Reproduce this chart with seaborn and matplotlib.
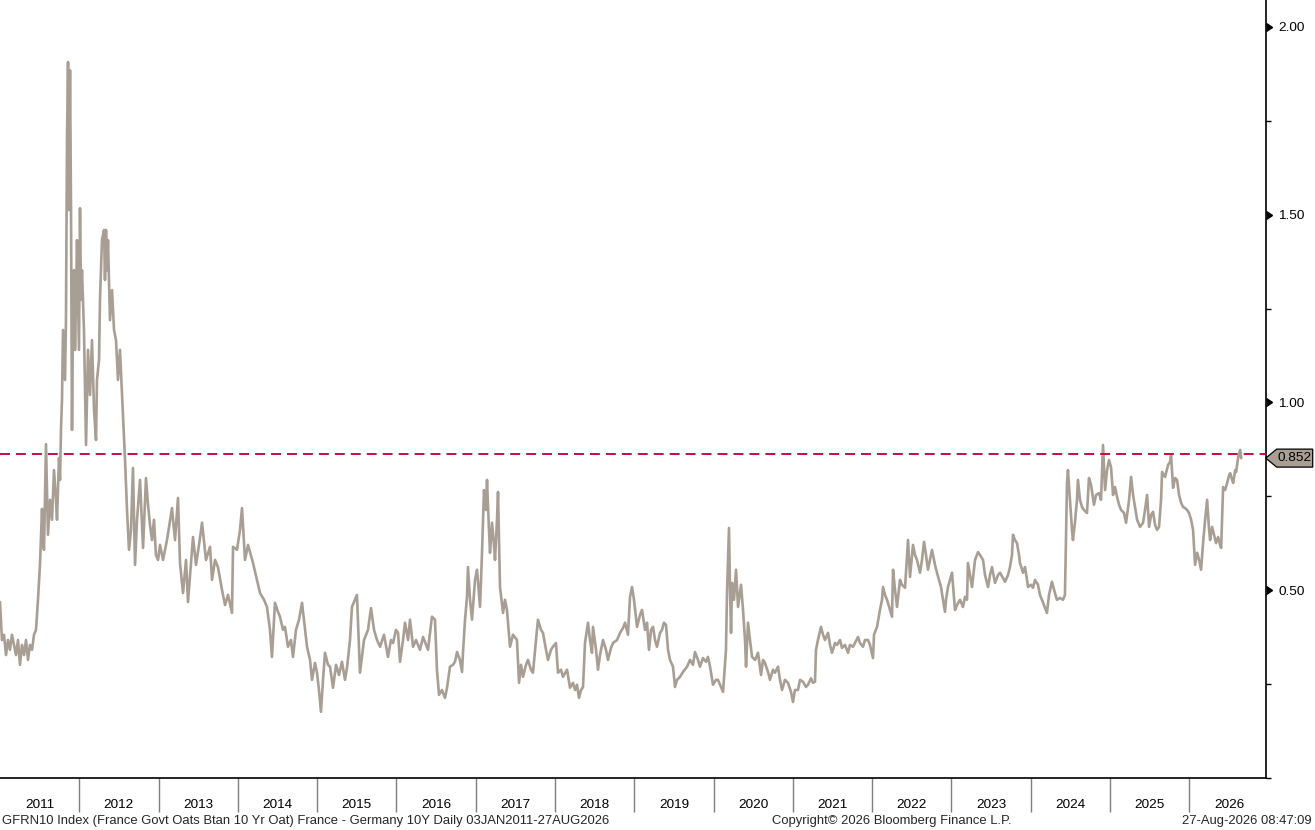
import numpy as np
import pandas as pd
import matplotlib
matplotlib.use("Agg")
import matplotlib.pyplot as plt
import matplotlib.transforms as mtransforms
from matplotlib.patches import Polygon
import seaborn as sns

# ---------------- data ----------------
dates_2011_2012 = [
    2011.000, 2011.025, 2011.050, 2011.076, 2011.101, 2011.126, 2011.151, 2011.177, 2011.202, 2011.227,
    2011.252, 2011.277, 2011.303, 2011.328, 2011.353, 2011.378, 2011.404, 2011.429, 2011.454, 2011.479,
    2011.504, 2011.530, 2011.542, 2011.555, 2011.580, 2011.605, 2011.631, 2011.656, 2011.681, 2011.706,
    2011.719, 2011.744, 2011.757, 2011.769, 2011.782, 2011.795, 2011.820, 2011.832, 2011.845, 2011.858,
    2011.870, 2011.883, 2011.895, 2011.908, 2011.921, 2011.933, 2011.946, 2011.959, 2011.971, 2011.984,
    2011.996, 2012.009, 2012.022, 2012.034, 2012.059, 2012.085, 2012.110, 2012.135, 2012.160, 2012.186,
    2012.211, 2012.223, 2012.249, 2012.261, 2012.286, 2012.312, 2012.324, 2012.337, 2012.349, 2012.362,
    2012.387, 2012.413, 2012.438, 2012.463, 2012.488, 2012.513, 2012.539, 2012.564, 2012.577, 2012.602,
    2012.627, 2012.652, 2012.677, 2012.703, 2012.728, 2012.766, 2012.804, 2012.841, 2012.867, 2012.892,
    2012.917, 2012.942, 2012.967, 2012.993,
]
spread_2011_2012 = [
    0.469, 0.368, 0.382, 0.328, 0.368, 0.342, 0.382, 0.355, 0.328, 0.368,
    0.302, 0.355, 0.328, 0.368, 0.315, 0.355, 0.342, 0.382, 0.395, 0.475,
    0.568, 0.717, 0.621, 0.608, 0.889, 0.648, 0.741, 0.688, 0.820, 0.741,
    0.688, 0.852, 0.794, 0.927, 1.007, 1.193, 1.060, 1.219, 1.698, 1.906,
    1.512, 1.884, 1.539, 0.927, 1.246, 1.352, 1.140, 1.273, 1.432, 1.273,
    1.140, 1.517, 1.273, 1.352, 1.193, 0.887, 1.140, 1.020, 1.166, 0.980,
    0.900, 1.060, 1.113, 1.273, 1.432, 1.459, 1.326, 1.459, 1.352, 1.432,
    1.219, 1.299, 1.193, 1.166, 1.060, 1.140, 1.020, 0.900, 0.847, 0.714,
    0.608, 0.661, 0.826, 0.568, 0.688, 0.794, 0.613, 0.799, 0.727, 0.674,
    0.634, 0.688, 0.594, 0.581,
]

dates_2013_2016 = [
    2013.018, 2013.056, 2013.106, 2013.169, 2013.207, 2013.245, 2013.270, 2013.308, 2013.346, 2013.371,
    2013.434, 2013.472, 2013.510, 2013.548, 2013.598, 2013.649, 2013.674, 2013.712, 2013.749, 2013.800,
    2013.838, 2013.876, 2013.926, 2013.939, 2013.989, 2014.027, 2014.052, 2014.090, 2014.128, 2014.153,
    2014.191, 2014.241, 2014.279, 2014.330, 2014.367, 2014.405, 2014.430, 2014.468, 2014.506, 2014.531,
    2014.569, 2014.594, 2014.632, 2014.670, 2014.695, 2014.733, 2014.771, 2014.809, 2014.847, 2014.872,
    2014.910, 2014.935, 2014.973, 2014.998, 2015.023, 2015.048, 2015.074, 2015.099, 2015.137, 2015.162,
    2015.200, 2015.238, 2015.275, 2015.313, 2015.351, 2015.376, 2015.414, 2015.439, 2015.477, 2015.502,
    2015.540, 2015.591, 2015.641, 2015.679, 2015.717, 2015.755, 2015.793, 2015.843, 2015.893, 2015.931,
    2015.957, 2015.994, 2016.020, 2016.045, 2016.083, 2016.108, 2016.146, 2016.171, 2016.209, 2016.247,
    2016.297, 2016.335, 2016.373, 2016.398, 2016.448, 2016.486, 2016.511, 2016.537, 2016.574, 2016.612,
    2016.638, 2016.675, 2016.713, 2016.738, 2016.764, 2016.801, 2016.827, 2016.839, 2016.865, 2016.890,
    2016.902, 2016.928, 2016.953, 2016.991,
]
spread_2013_2016 = [
    0.621, 0.581, 0.634, 0.719, 0.634, 0.746, 0.573, 0.493, 0.581, 0.469,
    0.642, 0.568, 0.621, 0.680, 0.581, 0.616, 0.528, 0.581, 0.562, 0.501,
    0.461, 0.488, 0.440, 0.616, 0.608, 0.661, 0.719, 0.581, 0.621, 0.602,
    0.573, 0.528, 0.493, 0.475, 0.456, 0.395, 0.323, 0.467, 0.443, 0.430,
    0.395, 0.403, 0.350, 0.368, 0.323, 0.395, 0.422, 0.467, 0.395, 0.350,
    0.315, 0.262, 0.307, 0.281, 0.235, 0.177, 0.262, 0.334, 0.302, 0.297,
    0.241, 0.302, 0.275, 0.310, 0.262, 0.294, 0.368, 0.456, 0.475, 0.488,
    0.281, 0.368, 0.395, 0.453, 0.395, 0.368, 0.350, 0.382, 0.323, 0.368,
    0.360, 0.395, 0.387, 0.310, 0.368, 0.414, 0.368, 0.422, 0.350, 0.368,
    0.342, 0.376, 0.355, 0.342, 0.430, 0.422, 0.289, 0.222, 0.235, 0.214,
    0.241, 0.297, 0.302, 0.310, 0.336, 0.315, 0.283, 0.334, 0.422, 0.483,
    0.562, 0.475, 0.422, 0.528,
]

dates_2017_2020 = [
    2017.016, 2017.054, 2017.079, 2017.104, 2017.129, 2017.142, 2017.167, 2017.180, 2017.205, 2017.230,
    2017.243, 2017.268, 2017.281, 2017.306, 2017.344, 2017.369, 2017.394, 2017.432, 2017.470, 2017.520,
    2017.546, 2017.571, 2017.596, 2017.634, 2017.659, 2017.697, 2017.722, 2017.760, 2017.785, 2017.823,
    2017.848, 2017.886, 2017.911, 2017.949, 2017.974, 2018.012, 2018.037, 2018.075, 2018.100, 2018.151,
    2018.189, 2018.226, 2018.252, 2018.277, 2018.302, 2018.328, 2018.353, 2018.378, 2018.416, 2018.441,
    2018.466, 2018.479, 2018.517, 2018.542, 2018.567, 2018.605, 2018.643, 2018.668, 2018.706, 2018.731,
    2018.782, 2018.820, 2018.857, 2018.883, 2018.920, 2018.946, 2018.971, 2018.996, 2019.034, 2019.072,
    2019.097, 2019.135, 2019.160, 2019.185, 2019.211, 2019.236, 2019.261, 2019.286, 2019.324, 2019.349,
    2019.374, 2019.400, 2019.425, 2019.450, 2019.488, 2019.513, 2019.539, 2019.576, 2019.614, 2019.665,
    2019.702, 2019.740, 2019.765, 2019.803, 2019.828, 2019.866, 2019.904, 2019.929, 2019.955, 2019.992,
    2020.030, 2020.055, 2020.093, 2020.119, 2020.156, 2020.169, 2020.194, 2020.207, 2020.220, 2020.232,
    2020.257, 2020.283, 2020.308, 2020.346, 2020.371, 2020.396, 2020.409, 2020.434, 2020.459, 2020.485,
    2020.523, 2020.560, 2020.598, 2020.623, 2020.648, 2020.686, 2020.711, 2020.749, 2020.774, 2020.812,
    2020.837, 2020.863, 2020.900, 2020.938, 2020.976,
]
spread_2017_2020 = [
    0.555, 0.456, 0.600, 0.767, 0.714, 0.794, 0.661, 0.600, 0.680, 0.621,
    0.581, 0.688, 0.762, 0.509, 0.440, 0.475, 0.448, 0.350, 0.382, 0.368,
    0.254, 0.302, 0.270, 0.302, 0.315, 0.289, 0.281, 0.368, 0.422, 0.395,
    0.387, 0.342, 0.315, 0.342, 0.350, 0.360, 0.281, 0.289, 0.270, 0.289,
    0.241, 0.254, 0.235, 0.249, 0.214, 0.235, 0.243, 0.360, 0.414, 0.368,
    0.334, 0.403, 0.342, 0.289, 0.328, 0.368, 0.342, 0.315, 0.347, 0.360,
    0.368, 0.387, 0.400, 0.414, 0.382, 0.483, 0.509, 0.475, 0.403, 0.435,
    0.448, 0.395, 0.414, 0.342, 0.395, 0.403, 0.368, 0.350, 0.387, 0.395,
    0.414, 0.408, 0.342, 0.315, 0.297, 0.243, 0.262, 0.270, 0.283, 0.297,
    0.315, 0.302, 0.336, 0.315, 0.297, 0.320, 0.310, 0.323, 0.297, 0.249,
    0.262, 0.262, 0.243, 0.230, 0.342, 0.493, 0.666, 0.501, 0.387, 0.520,
    0.475, 0.555, 0.456, 0.515, 0.448, 0.368, 0.297, 0.414, 0.368, 0.323,
    0.315, 0.334, 0.275, 0.315, 0.307, 0.283, 0.262, 0.289, 0.281, 0.297,
    0.262, 0.235, 0.262, 0.254, 0.230,
]

dates_2021_2023 = [
    2021.001, 2021.026, 2021.064, 2021.090, 2021.127, 2021.165, 2021.190, 2021.228, 2021.253, 2021.279,
    2021.291, 2021.316, 2021.354, 2021.380, 2021.405, 2021.443, 2021.468, 2021.493, 2021.531, 2021.556,
    2021.594, 2021.619, 2021.657, 2021.695, 2021.720, 2021.758, 2021.783, 2021.821, 2021.846, 2021.884,
    2021.909, 2021.947, 2021.972, 2022.010, 2022.023, 2022.061, 2022.098, 2022.124, 2022.136, 2022.162,
    2022.187, 2022.225, 2022.250, 2022.263, 2022.288, 2022.313, 2022.351, 2022.376, 2022.414, 2022.452,
    2022.477, 2022.515, 2022.540, 2022.565, 2022.603, 2022.628, 2022.654, 2022.679, 2022.704, 2022.729,
    2022.754, 2022.792, 2022.817, 2022.843, 2022.868, 2022.893, 2022.918, 2022.931, 2022.956, 2022.981,
    2023.007, 2023.044, 2023.070, 2023.108, 2023.145, 2023.171, 2023.196, 2023.208, 2023.234, 2023.259,
    2023.297, 2023.335, 2023.360, 2023.398, 2023.423, 2023.461, 2023.486, 2023.511, 2023.549, 2023.587,
    2023.612, 2023.650, 2023.675, 2023.713, 2023.738, 2023.763, 2023.776, 2023.801, 2023.826, 2023.852,
    2023.864, 2023.902, 2023.927, 2023.953, 2023.965,
]
spread_2021_2023 = [
    0.203, 0.235, 0.235, 0.262, 0.257, 0.243, 0.249, 0.266, 0.254, 0.257,
    0.342, 0.368, 0.403, 0.382, 0.368, 0.387, 0.355, 0.334, 0.360, 0.355,
    0.368, 0.347, 0.355, 0.334, 0.355, 0.350, 0.360, 0.376, 0.360, 0.350,
    0.368, 0.368, 0.355, 0.320, 0.382, 0.403, 0.448, 0.475, 0.509, 0.488,
    0.475, 0.448, 0.430, 0.555, 0.501, 0.456, 0.528, 0.515, 0.507, 0.634,
    0.536, 0.621, 0.594, 0.581, 0.547, 0.581, 0.629, 0.594, 0.555, 0.581,
    0.608, 0.568, 0.547, 0.528, 0.509, 0.475, 0.443, 0.475, 0.509, 0.528,
    0.547, 0.448, 0.461, 0.475, 0.456, 0.483, 0.475, 0.573, 0.541, 0.509,
    0.581, 0.602, 0.594, 0.581, 0.541, 0.509, 0.541, 0.562, 0.520, 0.541,
    0.547, 0.533, 0.523, 0.541, 0.562, 0.594, 0.648, 0.634, 0.626, 0.594,
    0.573, 0.547, 0.562, 0.528, 0.509,
]

dates_2024_2026 = [
    2024.003, 2024.028, 2024.053, 2024.091, 2024.116, 2024.141, 2024.166, 2024.204, 2024.230, 2024.267,
    2024.305, 2024.330, 2024.368, 2024.406, 2024.431, 2024.457, 2024.469, 2024.494, 2024.520, 2024.532,
    2024.557, 2024.583, 2024.595, 2024.621, 2024.646, 2024.671, 2024.709, 2024.734, 2024.760, 2024.797,
    2024.823, 2024.861, 2024.886, 2024.911, 2024.937, 2024.962, 2024.987, 2025.012, 2025.038, 2025.063,
    2025.088, 2025.113, 2025.139, 2025.176, 2025.202, 2025.240, 2025.265, 2025.290, 2025.315, 2025.341,
    2025.378, 2025.416, 2025.441, 2025.467, 2025.492, 2025.517, 2025.542, 2025.568, 2025.593, 2025.618,
    2025.643, 2025.656, 2025.694, 2025.732, 2025.757, 2025.769, 2025.795, 2025.820, 2025.845, 2025.870,
    2025.896, 2025.921, 2025.946, 2025.971, 2025.996, 2026.022, 2026.047, 2026.072, 2026.098, 2026.123,
    2026.148, 2026.173, 2026.199, 2026.224, 2026.249, 2026.262, 2026.287, 2026.312, 2026.337, 2026.363,
    2026.388, 2026.401, 2026.426, 2026.451, 2026.477, 2026.502, 2026.515, 2026.540, 2026.553, 2026.578,
    2026.590, 2026.616, 2026.641, 2026.654,
]
spread_2024_2026 = [
    0.515, 0.507, 0.528, 0.515, 0.488, 0.475, 0.461, 0.440, 0.488, 0.523,
    0.493, 0.475, 0.480, 0.475, 0.488, 0.786, 0.820, 0.741, 0.661, 0.634,
    0.680, 0.741, 0.794, 0.741, 0.722, 0.714, 0.706, 0.799, 0.781, 0.728,
    0.754, 0.759, 0.741, 0.887, 0.767, 0.820, 0.847, 0.828, 0.754, 0.775,
    0.749, 0.728, 0.714, 0.706, 0.680, 0.741, 0.802, 0.754, 0.722, 0.688,
    0.669, 0.680, 0.714, 0.754, 0.669, 0.701, 0.709, 0.674, 0.661, 0.669,
    0.741, 0.815, 0.802, 0.834, 0.842, 0.860, 0.773, 0.799, 0.794, 0.754,
    0.733, 0.722, 0.719, 0.714, 0.706, 0.688, 0.661, 0.568, 0.600, 0.581,
    0.555, 0.626, 0.688, 0.741, 0.661, 0.634, 0.669, 0.648, 0.626, 0.642,
    0.621, 0.613, 0.775, 0.767, 0.786, 0.807, 0.812, 0.794, 0.786, 0.820,
    0.815, 0.855, 0.874, 0.852,
]

last_value = 0.852
reference_level = 0.864
year_labels = [str(y) for y in range(2011, 2027)]
ytick_values = [0.5, 1.0, 1.5, 2.0]
ytick_labels = ["0.50", "1.00", "1.50", "2.00"]
footer_left = "GFRN10 Index (France Govt Oats Btan 10 Yr Oat) France - Germany 10Y Daily 03JAN2011-27AUG2026"
footer_mid = "Copyright\u00a9 2026 Bloomberg Finance L.P."
footer_right = "27-Aug-2026 08:47:09"

df = pd.DataFrame({
    "t": dates_2011_2012 + dates_2013_2016 + dates_2017_2020 + dates_2021_2023 + dates_2024_2026,
    "spread": spread_2011_2012 + spread_2013_2016 + spread_2017_2020 + spread_2021_2023 + spread_2024_2026,
})

# ---------------- style ----------------
sns.set_style("white")
FONT = ["Liberation Sans", "DejaVu Sans"]
plt.rcParams["font.family"] = FONT
FS_TICK = 9.7
FS_FOOT = 9.4
LINE_COLOR = "#a89e94"
DASH_COLOR = "#cc0a3c"

W, H = 1315, 830
fig = plt.figure(figsize=(W / 100, H / 100), dpi=100)
ax_right_px, ax_bottom_px = 1265.7, 778.3
ax = fig.add_axes([0, (H - ax_bottom_px) / H, ax_right_px / W, ax_bottom_px / H])

sns.lineplot(data=df, x="t", y="spread", ax=ax, color=LINE_COLOR, linewidth=1.9,
             sort=False, estimator=None)
ax.axhline(reference_level, color=DASH_COLOR, linewidth=1.4, dashes=(5.1, 3.1), zorder=3)

x0, x1 = 2011.0, 2011.0 + ax_right_px / 79.29
ax.set_xlim(x0, x1)
ax.set_ylim(0.0, 2.0 + 26.7 / 376)

# spines
for s in ["left", "top"]:
    ax.spines[s].set_visible(False)
for s in ["right", "bottom"]:
    ax.spines[s].set_color("black")
    ax.spines[s].set_linewidth(1.2)

# y axis on the right
ax.yaxis.tick_right()
ax.set_yticks(ytick_values)
ax.set_yticklabels(ytick_labels)
ax.set_yticks([0.0, 0.25, 0.75, 1.25, 1.75], minor=True)
ax.tick_params(axis="y", which="both", right=True, left=False)
ax.tick_params(axis="y", which="major", length=0, pad=9, labelsize=FS_TICK, labelcolor="black")
ax.tick_params(axis="y", which="minor", length=3.5, width=1.0, color="black", direction="out")
ytrans = mtransforms.blended_transform_factory(ax.transAxes, ax.transData)
ax.plot([1.0] * len(ytick_values), ytick_values, linestyle="none", marker=9,
        markersize=6, color="black", transform=ytrans, clip_on=False, zorder=5)

# x axis: year separators and centred year labels
ax.set_xticks(np.arange(2012, 2027))
ax.set_xticklabels([])
ax.set_xticks(np.arange(2011, 2027) + 0.5, minor=True)
ax.set_xticklabels(year_labels, minor=True)
ax.tick_params(axis="x", which="both", bottom=True, top=False)
ax.tick_params(axis="x", which="major", length=24.5, width=1.0, color="#7f7f7f", direction="out")
ax.tick_params(axis="x", which="minor", length=0, pad=15, labelsize=FS_TICK, labelcolor="black")
ax.set_xlabel("")
ax.set_ylabel("")

# last value label box
fig.canvas.draw()
px, py = ax.transData.transform((x1, last_value))
verts = [(px, py), (px + 11, py + 9), (px + 47, py + 9), (px + 47, py - 9), (px + 11, py - 9)]
poly = Polygon(verts, closed=True, facecolor=LINE_COLOR, edgecolor="black", linewidth=0.9,
               transform=mtransforms.IdentityTransform(), clip_on=False, zorder=6)
fig.add_artist(poly)
fig.text((px + 29) / W, py / H, f"{last_value:.3f}", ha="center", va="center",
         fontsize=FS_TICK, color="black", zorder=7)

# footer
fig.text(2 / W, 1 - 821 / H, footer_left, ha="left", va="center", fontsize=FS_FOOT)
fig.text(892 / W, 1 - 821 / H, footer_mid, ha="center", va="center", fontsize=FS_FOOT)
fig.text(1312 / W, 1 - 821 / H, footer_right, ha="right", va="center", fontsize=FS_FOOT)

fig.savefig("out.png", dpi=100)
